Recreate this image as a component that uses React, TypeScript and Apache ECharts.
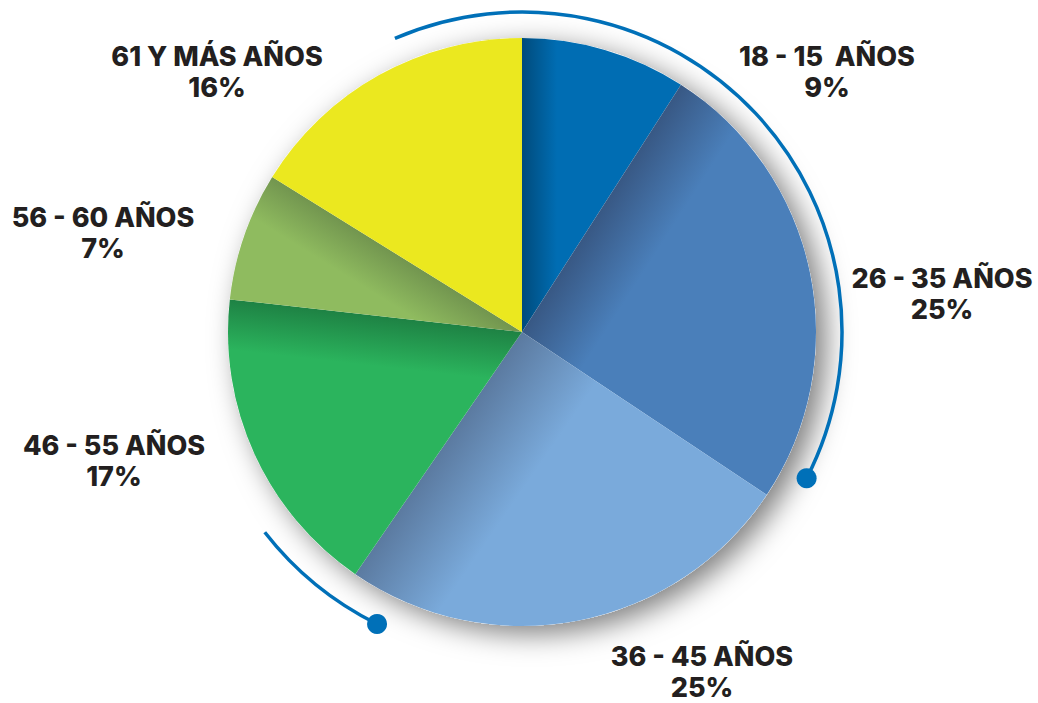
import React, { useEffect, useRef } from "react";
import * as echarts from "echarts";

const categories = ["18 - 15  AÑOS", "26 - 35 AÑOS", "36 - 45 AÑOS", "46 - 55 AÑOS", "56 - 60 AÑOS", "61 Y MÁS AÑOS"];
const values = [9, 25, 25, 17, 7, 16];

// styling (not data)
const baseColors = ["#006db3", "#4a7fba", "#7aaadb", "#2bb45d", "#8fbb5f", "#ebe81f"];
const darkColors = ["#004b7c", "#385884", "#5b7aa0", "#1e8244", "#72954f", "#ebe81f"];
const shadeSide = ["start", "start", "end", "end", "end", "start"];
const shadeWidth = [35, 70, 90, 50, 45, 1];
const labelCenters = [
  [827, 72],
  [942, 294],
  [702, 672],
  [114, 461],
  [103, 233],
  [217, 72],
];

const CX = 522;
const CY = 332;
const R = 294;

function toZr(topDeg: number) {
  return ((topDeg - 90) * Math.PI) / 180;
}

export default function App() {
  const ref = useRef<HTMLDivElement>(null);
  useEffect(() => {
    document.body.style.margin = "0";
    const chart = echarts.init(ref.current!, null, { renderer: "svg" });
    const total = values.reduce((a, b) => a + b, 0);
    const cum: number[] = [0];
    values.forEach((v) => cum.push(cum[cum.length - 1] + v));

    const data = values.map((v, i) => {
      const a0 = (cum[i] / total) * 2 * Math.PI;
      const a1 = (cum[i + 1] / total) * 2 * Math.PI;
      const e = shadeSide[i] === "start" ? a0 : a1;
      const sgn = shadeSide[i] === "start" ? 1 : -1;
      const px = CX + Math.sin(e) * R * 0.5;
      const py = CY - Math.cos(e) * R * 0.5;
      const nx = sgn * Math.cos(e);
      const ny = sgn * Math.sin(e);
      const w = shadeWidth[i];
      const grad = new echarts.graphic.LinearGradient(
        px,
        py,
        px + nx * w,
        py + ny * w,
        [
          { offset: 0, color: darkColors[i] },
          { offset: 1, color: baseColors[i] },
        ],
        true
      );
      return { name: categories[i], value: v, itemStyle: { color: grad } };
    });

    const topArc = { start: -23.4, end: 117.2, r: 320 };
    const botArc = { start: 206.4, end: 232.1, r: 326 };
    const dotAt = (arc: { r: number }, deg: number) => [
      CX + Math.cos(toZr(deg)) * arc.r,
      CY + Math.sin(toZr(deg)) * arc.r,
    ];
    const d1 = dotAt(topArc, topArc.end);
    const d2 = dotAt(botArc, botArc.start);

    chart.setOption({
      animation: false,
      backgroundColor: "#ffffff",
      graphic: [
        {
          type: "arc",
          z: 1,
          shape: { cx: CX, cy: CY, r: topArc.r, startAngle: toZr(topArc.start), endAngle: toZr(topArc.end), clockwise: true },
          style: { stroke: "#0070b8", lineWidth: 3.5, fill: "none" },
        },
        {
          type: "arc",
          z: 1,
          shape: { cx: CX, cy: CY, r: botArc.r, startAngle: toZr(botArc.start), endAngle: toZr(botArc.end), clockwise: true },
          style: { stroke: "#0070b8", lineWidth: 3.5, fill: "none" },
        },
        { type: "circle", z: 1, shape: { cx: d1[0], cy: d1[1], r: 10 }, style: { fill: "#0070b8" } },
        { type: "circle", z: 1, shape: { cx: d2[0], cy: d2[1], r: 10 }, style: { fill: "#0070b8" } },
      ],
      series: [
        {
          type: "pie",
          silent: true,
          z: 0,
          center: [CX, CY],
          radius: R,
          label: { show: false },
          labelLine: { show: false },
          itemStyle: {
            color: "#ffffff",
            shadowBlur: 28,
            shadowColor: "rgba(0,0,0,0.5)",
            shadowOffsetX: 10,
            shadowOffsetY: 8,
          },
          data: [{ value: 1, name: "bg" }],
        },
        {
          type: "pie",
          z: 2,
          center: [CX, CY],
          radius: R,
          startAngle: 90,
          clockwise: true,
          avoidLabelOverlap: false,
          itemStyle: { borderWidth: 0 },
          label: {
            show: true,
            position: "outside",
            formatter: (p: any) => `${p.name}\n${p.value}%`,
            fontFamily: "Inter",
            fontWeight: 800,
            fontSize: 27,
            lineHeight: 31,
            color: "#231f20",
            align: "center",
          },
          labelLine: { show: false },
          labelLayout: (params: any) => ({
            x: labelCenters[params.dataIndex][0],
            y: labelCenters[params.dataIndex][1],
            align: "center",
            verticalAlign: "middle",
          }),
          data,
        },
      ],
    });
    return () => chart.dispose();
  }, []);
  return <div ref={ref} style={{ position: "absolute", left: 0, top: 0, width: 1038, height: 703 }} />;
}
